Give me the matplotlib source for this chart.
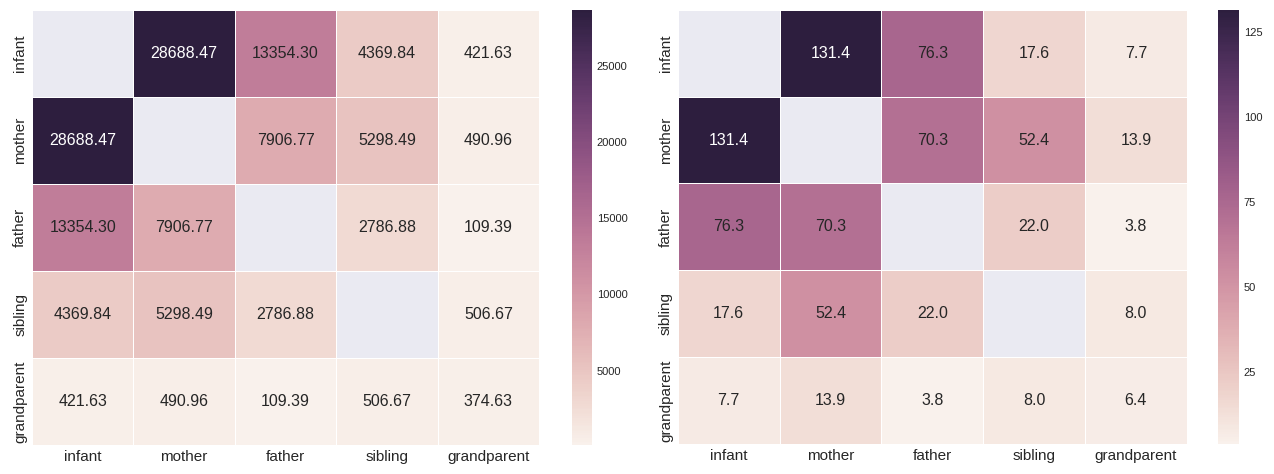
import numpy as np
import seaborn as sns
import matplotlib
matplotlib.use("Agg")
import matplotlib.pyplot as plt

labels = ['infant', 'mother', 'father', 'sibling', 'grandparent']

# left matrix (diagonal empty except grandparent)
left_vals = np.array([
    [np.nan, 28688.47, 13354.30, 4369.84, 421.63],
    [28688.47, np.nan, 7906.77, 5298.49, 490.96],
    [13354.30, 7906.77, np.nan, 2786.88, 109.39],
    [4369.84, 5298.49, 2786.88, np.nan, 506.67],
    [421.63, 490.96, 109.39, 506.67, 374.63],
])

right_vals = np.array([
    [np.nan, 131.4, 76.3, 17.6, 7.7],
    [131.4, np.nan, 70.3, 52.4, 13.9],
    [76.3, 70.3, np.nan, 22.0, 3.8],
    [17.6, 52.4, 22.0, np.nan, 8.0],
    [7.7, 13.9, 3.8, 8.0, 6.4],
])

sns.set_style("darkgrid")
plt.rcParams['font.family'] = ['Liberation Sans', 'DejaVu Sans']
plt.rcParams['text.color'] = '.15'
plt.rcParams['xtick.color'] = '.15'
plt.rcParams['ytick.color'] = '.15'
plt.rcParams['axes.grid'] = False

cmap = sns.cubehelix_palette(light=.95, dark=.15, as_cmap=True)

fig = plt.figure(figsize=(12.74, 4.74), dpi=100)
ax1 = fig.add_axes([0.0251, 0.0612, 0.398, 0.918])
cax1 = fig.add_axes([0.449, 0.0612, 0.0157, 0.918])
ax2 = fig.add_axes([0.532, 0.0633, 0.3995, 0.916])
cax2 = fig.add_axes([0.956, 0.0633, 0.0165, 0.916])

for ax, cax, vals, fmt in ((ax1, cax1, left_vals, '.2f'), (ax2, cax2, right_vals, '.1f')):
    sns.heatmap(vals, ax=ax, cbar_ax=cax, cmap=cmap, annot=True, fmt=fmt,
                linewidths=0.5, linecolor='white', annot_kws={'fontsize': 11.5},
                xticklabels=labels, yticklabels=labels)
    ax.grid(False)
    ax.set_facecolor('#EAEAF2')
    lo, hi = np.nanmin(vals), np.nanmax(vals)
    flat = vals[~np.isnan(vals)]
    for t, v in zip(ax.texts, flat):
        t.set_color('white' if (v - lo) / (hi - lo) > 0.9 else '.15')
    ax.tick_params(axis='x', labelsize=11, rotation=0, length=0)
    ax.tick_params(axis='y', labelsize=11, rotation=90, length=0)
    for t in ax.get_yticklabels():
        t.set_va('center')
    cax.tick_params(labelsize=8, length=0)
    for s in cax.spines.values():
        s.set_visible(False)

cax1.set_yticks([5000, 10000, 15000, 20000, 25000])
cax2.set_yticks([25, 50, 75, 100, 125])

fig.savefig('out.png', dpi=100)
